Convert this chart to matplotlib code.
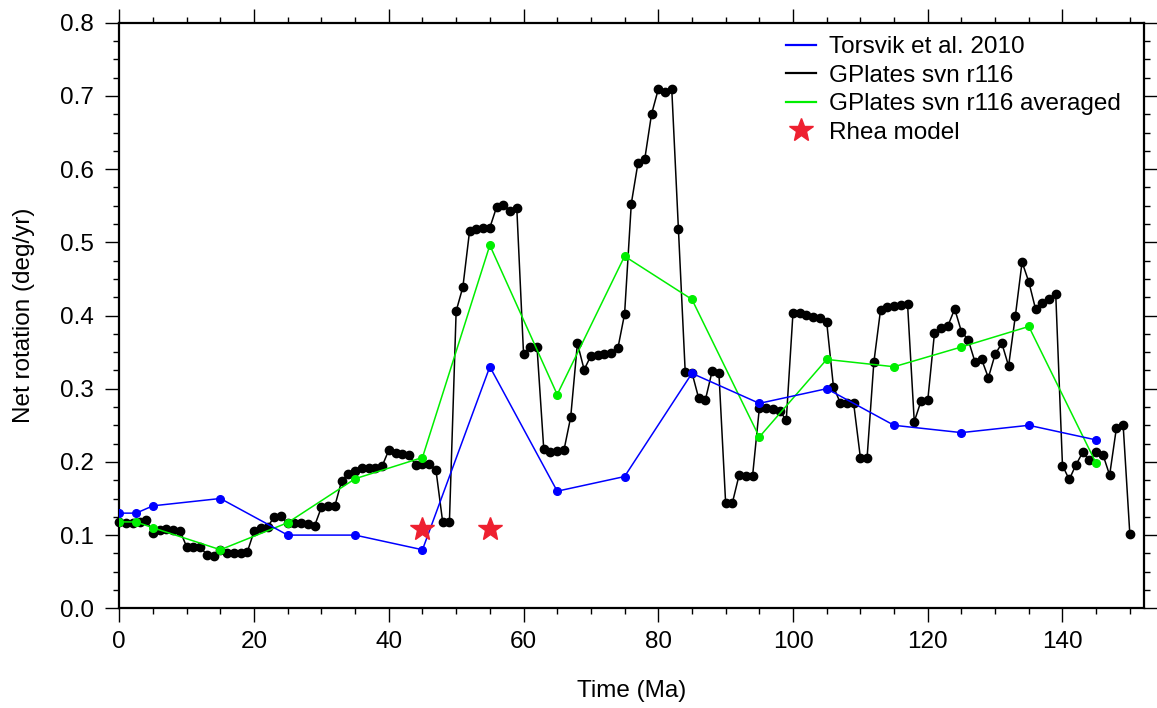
import matplotlib
matplotlib.use("Agg")
import matplotlib.pyplot as plt
from matplotlib.ticker import MultipleLocator

plt.rcParams['font.family'] = ['Liberation Sans', 'DejaVu Sans']

# ---- data ----
torsvik_t = [0, 2.5, 5, 15, 25, 35, 45, 55, 65, 75, 85, 95, 105, 115, 125, 135, 145]
torsvik_v = [0.130, 0.130, 0.140, 0.150, 0.100, 0.100, 0.080, 0.330, 0.160, 0.180,
             0.321, 0.280, 0.300, 0.250, 0.240, 0.250, 0.230]

gplates_t = list(range(0, 151))
gplates_v = [
    0.118, 0.117, 0.117, 0.118, 0.121, 0.103, 0.107, 0.109, 0.107, 0.106,   # 0-9
    0.084, 0.084, 0.084, 0.073, 0.072, 0.080, 0.075, 0.076, 0.076, 0.077,   # 10-19
    0.105, 0.110, 0.111, 0.125, 0.126, 0.116, 0.116, 0.116, 0.115, 0.113,   # 20-29
    0.138, 0.140, 0.140, 0.174, 0.183, 0.188, 0.191, 0.192, 0.192, 0.194,   # 30-39
    0.216, 0.212, 0.211, 0.209, 0.196, 0.197, 0.197, 0.189, 0.118, 0.118,   # 40-49
    0.406, 0.439, 0.516, 0.518, 0.519, 0.520, 0.548, 0.551, 0.543, 0.547,   # 50-59
    0.348, 0.357, 0.357, 0.218, 0.214, 0.215, 0.216, 0.261, 0.362, 0.326,   # 60-69
    0.345, 0.346, 0.347, 0.349, 0.355, 0.402, 0.553, 0.609, 0.614, 0.675,   # 70-79
    0.709, 0.706, 0.710, 0.518, 0.323, 0.322, 0.287, 0.285, 0.324, 0.322,   # 80-89
    0.144, 0.144, 0.182, 0.181, 0.181, 0.273, 0.274, 0.272, 0.270, 0.257,   # 90-99
    0.404, 0.403, 0.401, 0.398, 0.396, 0.391, 0.303, 0.281, 0.281, 0.280,   # 100-109
    0.206, 0.206, 0.336, 0.408, 0.411, 0.413, 0.415, 0.416, 0.255, 0.283,   # 110-119
    0.284, 0.376, 0.383, 0.386, 0.409, 0.378, 0.367, 0.337, 0.340, 0.315,   # 120-129
    0.347, 0.362, 0.331, 0.399, 0.473, 0.446, 0.409, 0.417, 0.422, 0.429,   # 130-139
    0.195, 0.176, 0.196, 0.213, 0.202, 0.213, 0.210, 0.182, 0.246, 0.251,   # 140-149
    0.101,                                                                  # 150
]

avg_t = [0, 2.5, 5, 15, 25, 35, 45, 55, 65, 75, 85, 95, 105, 115, 125, 135, 145]
avg_v = [0.118, 0.118, 0.110, 0.080, 0.117, 0.177, 0.206, 0.496, 0.292, 0.481,
         0.422, 0.234, 0.340, 0.330, 0.357, 0.385, 0.198]

rhea_t = [45, 55]
rhea_v = [0.108, 0.108]

labels = ["Torsvik et al. 2010", "GPlates svn r116", "GPlates svn r116 averaged", "Rhea model"]

# ---- figure ----
W, H = 1157, 708
FS = 17.5
fig = plt.figure(figsize=(W / 100, H / 100), dpi=100)
ax = fig.add_axes([119.3 / W, 1 - 608.3 / H, (1144 - 119.3) / W, (608.3 - 22.7) / H])

l_black, = ax.plot(gplates_t, gplates_v, color='black', lw=1.1, marker='o', ms=6,
                   zorder=2, clip_on=False)
l_green, = ax.plot(avg_t, avg_v, color='#00ee00', lw=1.1, marker='o', ms=5.5, zorder=3)
l_blue, = ax.plot(torsvik_t, torsvik_v, color='#0000ff', lw=1.1, marker='o', ms=5.5, zorder=4)
l_red, = ax.plot(rhea_t, rhea_v, color='#ee2030', lw=0, marker='*', ms=18, zorder=5)

ax.set_xlim(0, 152.1)
ax.set_ylim(0, 0.8)

ax.xaxis.set_major_locator(MultipleLocator(20))
ax.xaxis.set_minor_locator(MultipleLocator(5))
ax.yaxis.set_major_locator(MultipleLocator(0.1))
ax.yaxis.set_minor_locator(MultipleLocator(0.025))
ax.yaxis.set_major_formatter(matplotlib.ticker.FormatStrFormatter('%.1f'))

ax.tick_params(which='both', direction='out', top=True, right=True, width=1.0,
               labelsize=FS, colors='black')
ax.tick_params(which='major', length=10)
ax.tick_params(which='minor', length=4.5)
ax.tick_params(axis='x', which='major', pad=6)
ax.tick_params(axis='y', which='major', pad=8.5)
for s in ax.spines.values():
    s.set_linewidth(1.6)

ax.set_xlabel("Time (Ma)", fontsize=FS, labelpad=20)
ax.set_ylabel("Net rotation (deg/yr)", fontsize=FS, labelpad=18)

leg = fig.legend([l_blue, l_black, l_green, l_red], labels,
                 loc='upper left', bbox_to_anchor=(786 / W, 1 - 36 / H),
                 frameon=False, fontsize=FS, handlelength=1.25, handletextpad=0.5,
                 labelspacing=0.27, borderpad=0, borderaxespad=0)
for h in leg.legend_handles[:3]:
    h.set_marker('')
    h.set_linewidth(1.6)

fig.savefig("out.png", dpi=100)
